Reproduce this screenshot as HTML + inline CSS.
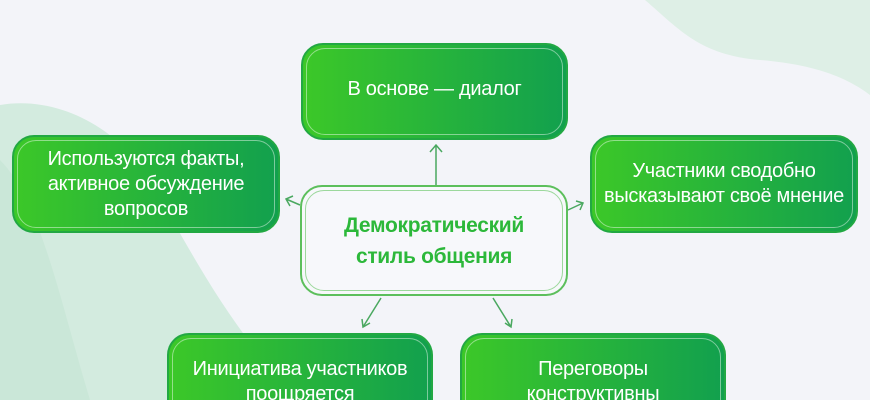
<!DOCTYPE html>
<html><head><meta charset="utf-8"><style>
html{overflow:hidden;width:870px;height:400px}
body{margin:0;width:870px;height:400px;overflow:hidden;background:#f3f4f9;position:relative;font-family:"Liberation Sans","DejaVu Sans",sans-serif}
.b{position:absolute;box-sizing:border-box;border-radius:22px;background:linear-gradient(90deg,#3cc828,#12a04e);border:2px solid #22a843;display:flex;align-items:center;justify-content:center;text-align:center;color:#fff;font-size:20px;line-height:25px;letter-spacing:-0.3px}
.b::after{content:"";position:absolute;inset:3px;border:1px solid rgba(255,255,255,.45);border-radius:19px}
.bb{border-bottom:none;border-radius:22px 22px 0 0;overflow:hidden;align-items:flex-start;padding-top:22px}
.bb::after{bottom:-20px}
.c{position:absolute;left:300px;top:185px;width:268px;height:111px;box-sizing:border-box;border:2px solid #5cbf5c;border-radius:22px;background:#f7f8fb;display:flex;align-items:center;justify-content:center;text-align:center;color:#2cb83a;font-weight:bold;font-size:21px;line-height:31px;letter-spacing:-0.3px}
.c::after{content:"";position:absolute;inset:3px;border:1px solid #9cd89c;border-radius:19px}
svg{position:absolute;left:0;top:0}
.clip{position:absolute;left:0;top:0;width:870px;height:400px;overflow:hidden}
</style></head><body><div class="clip">
<svg width="870" height="400">
<path d="M0 105 C60 95 120 130 150 180 C190 250 230 330 300 400 L0 400Z" fill="#d3ebdf"/>
<path d="M0 160 C40 200 60 300 90 400 L0 400Z" fill="#c5e4d4" opacity=".6"/>
<path d="M645 0 C680 30 700 55 760 60 C820 65 850 80 870 95 L870 0Z" fill="#deefe6"/>
<g stroke="#4aa860" stroke-width="1.5" fill="none">
<path d="M436 185 V145 M430 152 L436 145 L442 152"/>
<path d="M300 205 L286 199 M290 206 L286 199 L293 196"/>
<path d="M568 210 L583 203 M576 201 L583 203 L580 210"/>
<path d="M381 298 L363 327 M362 319 L363 327 L370 323"/>
<path d="M493 298 L511 327 M505 323 L511 327 L512 319"/>
</g>
</svg>
<div class="b" style="left:301px;top:43px;width:267px;height:97px;padding-bottom:4px">В основе — диалог</div>
<div class="b" style="left:12px;top:135px;width:268px;height:98px">Используются факты,<br>активное обсуждение<br>вопросов</div>
<div class="b" style="left:590px;top:135px;width:268px;height:98px">Участники сводобно<br>высказывают своё мнение</div>
<div class="c">Демократический<br>стиль общения</div>
<div class="b bb" style="left:167px;top:333px;width:266px;height:67px">Инициатива участников<br>поощряется</div>
<div class="b bb" style="left:460px;top:333px;width:266px;height:67px">Переговоры<br>конструктивны</div>
</div></body></html>
